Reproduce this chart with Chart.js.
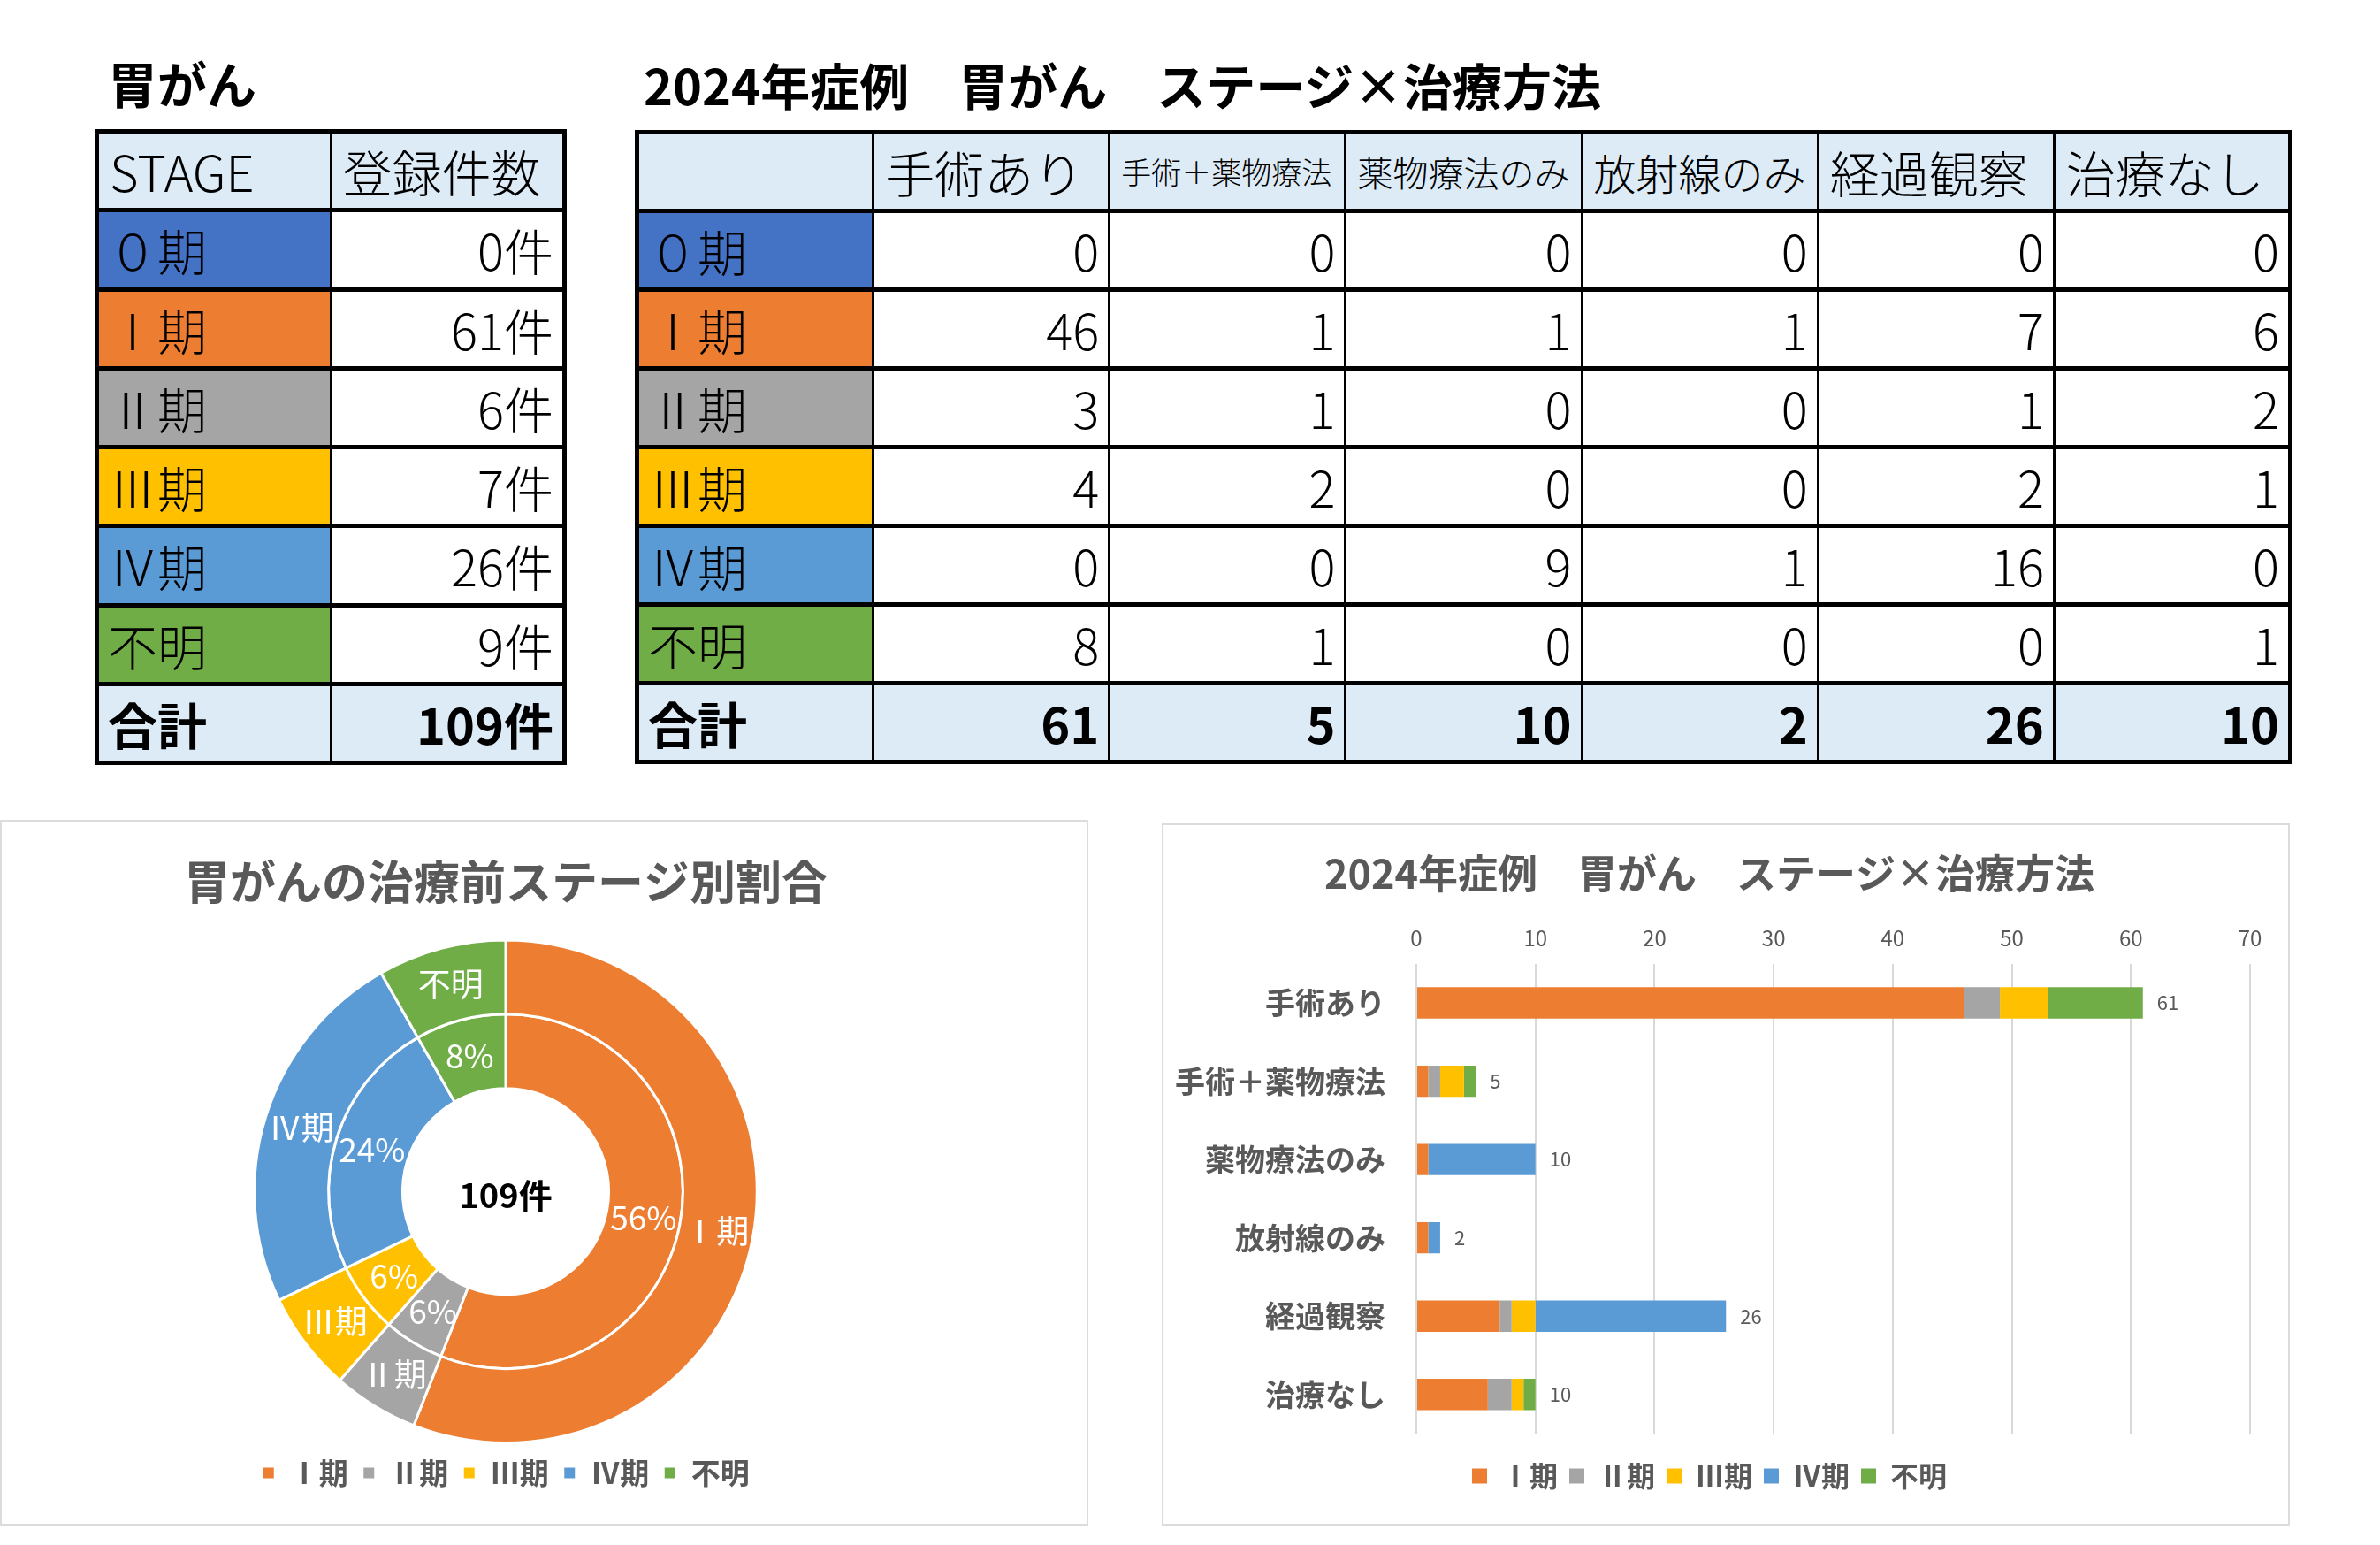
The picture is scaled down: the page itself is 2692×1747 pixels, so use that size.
<!DOCTYPE html>
<html lang="ja">
<head>
<meta charset="utf-8">
<script src="https://cdn.jsdelivr.net/npm/chart.js@4.4.1/dist/chart.umd.min.js"></script>
<style>
body{margin:0;width:2692px;height:1747px;background:#fff;position:relative;overflow:hidden;font-family:"Noto Sans CJK JP","Noto Sans",sans-serif;}
.ttl{position:absolute;font-size:56px;font-weight:bold;line-height:60px;color:#000;white-space:nowrap;}
table{position:absolute;border-collapse:collapse;table-layout:fixed;border:5px solid #000;}
tr{height:89px;}
td{border-top:5px solid #000;border-bottom:5px solid #000;border-left:3px solid #000;border-right:3px solid #000;padding:0 10px;font-size:56px;font-weight:300;line-height:1;white-space:nowrap;overflow:hidden;color:#000;}
td.hd{background:#DDEBF7;padding:0 8px 0 12px;}
td.num{text-align:right;}
tr.tot td{background:#DDEBF7;font-weight:bold;}
.panel{position:absolute;border:2px solid #DCDCDC;background:#fff;box-sizing:border-box;}
.panel canvas{position:absolute;left:0;top:0;}
</style>
</head>
<body>
<div class="ttl" style="left:122px;top:63px">胃がん</div>
<div class="ttl" id="title2" style="left:728px;top:65px"></div>
<table id="tblL" style="left:107px;top:146px;width:534px;height:719px"></table>
<table id="tblR" style="left:718px;top:147px;width:1875px;height:715px"></table>

<div class="panel" style="left:0;top:927px;width:1231px;height:798px">
  <canvas id="pie" width="1227" height="794" style="width:1227px;height:794px"></canvas>
</div>
<div class="panel" style="left:1314px;top:931px;width:1276px;height:794px">
  <canvas id="bar" width="1272" height="790" style="width:1272px;height:790px"></canvas>
</div>

<script>
'use strict';

const stageNames = ['０期', 'Ⅰ期', 'Ⅱ期', 'Ⅲ期', 'Ⅳ期', '不明'];
const stageCounts = [0, 61, 6, 7, 26, 9];
const totalCases = 109;
const stageColors = ['#4472C4', '#ED7D31', '#A5A5A5', '#FFC000', '#5B9BD5', '#70AD47'];

const treatments = ['手術あり', '手術＋薬物療法', '薬物療法のみ', '放射線のみ', '経過観察', '治療なし'];
// one row per stage, in treatment order
const stage0 = [0, 0, 0, 0, 0, 0];
const stage1 = [46, 1, 1, 1, 7, 6];
const stage2 = [3, 1, 0, 0, 1, 2];
const stage3 = [4, 2, 0, 0, 2, 1];
const stage4 = [0, 0, 9, 1, 16, 0];
const stageUnknown = [8, 1, 0, 0, 0, 1];
const treatmentTotals = [61, 5, 10, 2, 26, 10];

const xTicks = [0, 10, 20, 30, 40, 50, 60, 70];

const pieTitle = '胃がんの治療前ステージ別割合';
const barTitle = '2024年症例　胃がん　ステージ×治療方法';

const stageRows = [stage0, stage1, stage2, stage3, stage4, stageUnknown];
const gray = '#595959';
const jp = '"Noto Sans CJK JP", "Noto Sans", sans-serif';

// ---- tables ----
document.getElementById('title2').textContent = barTitle;

let html = '<tr><td class="hd">STAGE</td><td class="hd">登録件数</td></tr>';
stageNames.forEach((s, i) => {
  html += `<tr><td style="background:${stageColors[i]}">${s}</td><td class="num">${stageCounts[i]}件</td></tr>`;
});
html += `<tr class="tot"><td>合計</td><td class="num">${totalCases}件</td></tr>`;
document.getElementById('tblL').innerHTML = html;

html = '<tr><td class="hd"></td>';
treatments.forEach(t => { html += `<td class="hd">${t}</td>`; });
html += '</tr>';
stageNames.forEach((s, i) => {
  html += `<tr><td style="background:${stageColors[i]}">${s}</td>`;
  stageRows[i].forEach(v => { html += `<td class="num">${v}</td>`; });
  html += '</tr>';
});
html += '<tr class="tot"><td>合計</td>';
treatmentTotals.forEach(v => { html += `<td class="num">${v}</td>`; });
html += '</tr>';
document.getElementById('tblR').innerHTML = html;

// shrink header text to fit its cell, like Excel does
document.querySelectorAll('#tblR td.hd').forEach(td => {
  let size = 56;
  while (td.scrollWidth > td.clientWidth && size > 20) {
    size -= 1;
    td.style.fontSize = size + 'px';
  }
});

// ---- doughnut ----
const pieLabels = stageNames.slice(1);
const pieCounts = stageCounts.slice(1);
const pieColors = stageColors.slice(1);
const piePercents = pieCounts.map(v => Math.round(v / totalCases * 100) + '%');

const ringLabels = {
  id: 'ringLabels',
  afterDatasetsDraw(chart) {
    const ctx = chart.ctx;
    const texts = [pieLabels, piePercents];
    ctx.save();
    ctx.font = '37px ' + jp;
    ctx.fillStyle = '#fff';
    ctx.textAlign = 'center';
    ctx.textBaseline = 'middle';
    texts.forEach((t, d) => {
      chart.getDatasetMeta(d).data.forEach((arc, i) => {
        const p = arc.tooltipPosition();
        ctx.fillText(t[i], p.x, p.y);
      });
    });
    const c = chart.getDatasetMeta(0).data[0];
    ctx.fillStyle = '#000';
    ctx.font = 'bold 38px ' + jp;
    ctx.fillText(totalCases + '件', c.x, c.y + 4);
    ctx.restore();
  }
};

new Chart(document.getElementById('pie'), {
  type: 'doughnut',
  data: {
    labels: pieLabels,
    datasets: [
      { data: pieCounts, backgroundColor: pieColors, borderColor: '#fff', borderWidth: 3 },
      { data: pieCounts, backgroundColor: pieColors, borderColor: '#fff', borderWidth: 3 }
    ]
  },
  options: {
    responsive: false,
    animation: false,
    cutout: '41%',
    layout: { padding: { left: 0, right: 87, top: 0, bottom: 31 } },
    plugins: {
      title: {
        display: true,
        text: pieTitle,
        color: gray,
        font: { family: jp, size: 52, weight: 'bold' },
        padding: { top: 37, bottom: 33 }
      },
      legend: {
        position: 'bottom',
        labels: {
          color: gray,
          font: { family: jp, size: 33, weight: 'bold' },
          boxWidth: 15,
          boxHeight: 15,
          padding: 16
        }
      },
      tooltip: { enabled: false }
    }
  },
  plugins: [ringLabels]
});

// ---- stacked bars ----
const totalLabels = {
  id: 'totalLabels',
  afterDatasetsDraw(chart) {
    const ctx = chart.ctx;
    const x = chart.scales.x;
    const meta = chart.getDatasetMeta(0);
    ctx.save();
    ctx.font = '22px ' + jp;
    ctx.fillStyle = gray;
    ctx.textAlign = 'left';
    ctx.textBaseline = 'middle';
    treatmentTotals.forEach((t, i) => {
      ctx.fillText(String(t), x.getPixelForValue(t) + 16, meta.data[i].y);
    });
    ctx.restore();
  }
};

new Chart(document.getElementById('bar'), {
  type: 'bar',
  data: {
    labels: treatments,
    datasets: stageRows.slice(1).map((row, i) => ({
      label: pieLabels[i],
      data: row,
      backgroundColor: pieColors[i],
      barPercentage: 0.4,
      categoryPercentage: 1
    }))
  },
  options: {
    responsive: false,
    animation: false,
    indexAxis: 'y',
    layout: { padding: { left: 6, right: 43, top: 0, bottom: 28 } },
    scales: {
      x: {
        position: 'top',
        stacked: true,
        min: xTicks[0],
        max: xTicks[xTicks.length - 1],
        ticks: { stepSize: xTicks[1] - xTicks[0], color: gray, font: { family: jp, size: 24 }, padding: 15 },
        grid: { color: '#D9D9D9', lineWidth: 2, drawTicks: false },
        border: { display: false }
      },
      y: {
        stacked: true,
        afterFit(s) { s.width = 280; },
        ticks: { color: gray, font: { family: jp, size: 34, weight: 'bold' }, padding: 35 },
        grid: { display: false, drawTicks: false },
        border: { display: false }
      }
    },
    plugins: {
      title: {
        display: true,
        text: barTitle,
        color: gray,
        font: { family: jp, size: 45, weight: 'bold' },
        padding: { top: 28, bottom: 16 }
      },
      legend: {
        position: 'bottom',
        title: { display: true, text: '', font: { size: 10 }, padding: { top: 7, bottom: 0 } },
        labels: {
          color: gray,
          font: { family: jp, size: 32, weight: 'bold' },
          boxWidth: 17,
          boxHeight: 17,
          padding: 13
        }
      },
      tooltip: { enabled: false }
    }
  },
  plugins: [totalLabels]
});
</script>
</body>
</html>
